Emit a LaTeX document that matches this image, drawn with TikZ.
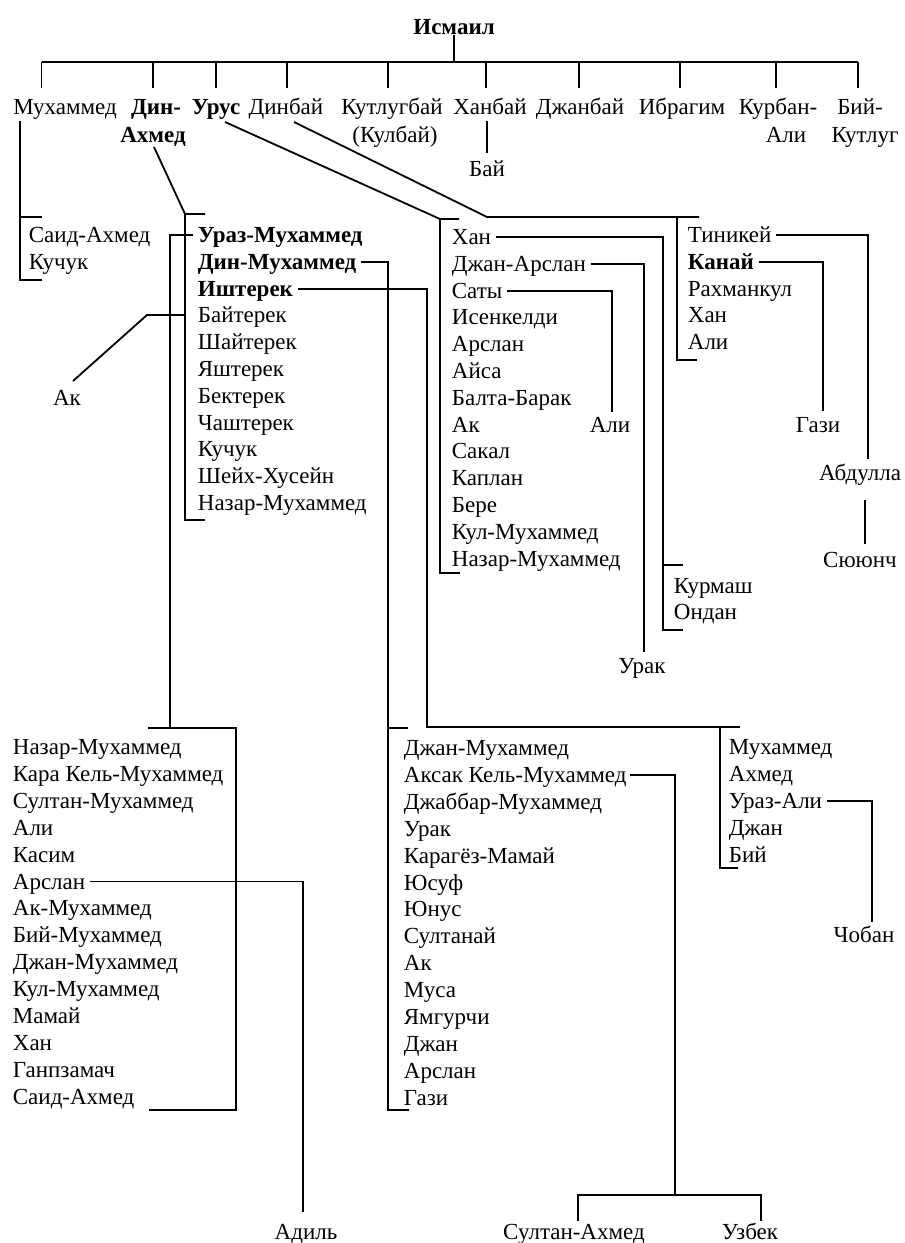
\documentclass[tikz,border=0pt]{standalone}
\usepackage{fontspec}
\setmainfont{Liberation Serif}
\newcommand\gnf{\fontsize{23}{26}\selectfont}
\newcommand\gbf{\fontsize{23}{26}\selectfont\bfseries}
\begin{document}
\begin{tikzpicture}[x=1pt,y=-1pt,line width=1.8pt,
  every node/.style={inner sep=0pt,text height=15pt,text depth=0pt,font=\gnf},
  lbl/.style={anchor=west}, bnode/.style={font=\gbf}, plain/.style={}]
\fill[white] (0,0) rectangle (905,1243);
\useasboundingbox (0,0) rectangle (905,1243);
% top generation
\node[bnode] (ism) at (454,27) {Исмаил};
\node (mu) at (65,107) {Мухаммед};
\node[bnode] (da) at (156,107) {Дин-};
\node[bnode] (da2) at (153,135) {Ахмед};
\node[bnode] (ur) at (216,107) {Урус};
\node (dn) at (286,107) {Динбай};
\node (ku) at (392,107) {Кутлугбай};
\node (ku2) at (395,135) {(Кулбай)};
\node (hb) at (490,107) {Ханбай};
\node (dj) at (580,107) {Джанбай};
\node (ib) at (682,107) {Ибрагим};
\node (kb) at (778,107) {Курбан-};
\node (kb2) at (786,135) {Али};
\node (bk) at (860,107) {Бий-};
\node (bk2) at (865,135) {Кутлуг};
\node (bai) at (487,169) {Бай};
\draw (ism.south) -- (454,62);
\draw (41.5,62) -- (858,62);
\foreach \x in {41.5,153,216,287,388,486,579,680,776,858} \draw (\x,62) -- (\x,88);
\draw (487,121) -- (487,153);
% Мухаммед's sons
\node[lbl] (m1) at (28,235) {Саид-Ахмед};
\node[lbl] (m2) at (28,262) {Кучук};
\draw (20,121) -- (20,280) -- (42,280);
\draw (20,217) -- (42,217);
% Дин-Ахмед's sons
\foreach \t [count=\i] in {Ураз-Мухаммед,Дин-Мухаммед,Иштерек}
  \node[lbl,bnode] (a\i) at (197,{235+26.8*(\i-1)}) {\t};
\foreach \t [count=\i from 4] in {Байтерек,Шайтерек,Яштерек,Бектерек,Чаштерек,Кучук,Шейх-Хусейн,Назар-Мухаммед}
  \node[lbl] (a\i) at (197,{235+26.8*(\i-1)}) {\t};
\draw (154,147) -- (185,214) -- (205,214);
\draw (185,214) -- (185,520) -- (205,520);
\node (akL) at (67,398) {Ак};
\draw (185,315) -- (147,315) -- (73,381);
% Урус's sons
\foreach \t [count=\i] in {Хан,Джан-Арслан,Саты,Исенкелди,Арслан,Айса,Балта-Барак,Ак,Сакал,Каплан,Бере,Кул-Мухаммед,Назар-Мухаммед}
  \node[lbl] (b\i) at (451,{237+26.8*(\i-1)}) {\t};
\draw (225,122) -- (440,219) -- (459,219);
\draw (440,219) -- (440,573) -- (460,573);
\node[lbl] (k1) at (673,586) {Курмаш};
\node[lbl] (k2) at (673,612) {Ондан};
\draw ([xshift=4pt]b1.east) -| (663,630) -- (683,630);
\draw (663,565) -- (683,565);
\node (urak) at (642,666) {Урак};
\draw ([xshift=4pt]b2.east) -| (644,652);
\node (aliS) at (610,425) {Али};
\draw ([xshift=4pt]b3.east) -| (612,412);
% Динбай's sons
\foreach \t/\s [count=\i] in {Тиникей/plain,Канай/bnode,Рахманкул/plain,Хан/plain,Али/plain}
  \node[lbl,\s] (c\i) at (687,{235+26.8*(\i-1)}) {\t};
\draw (294,122) -- (487,217) -- (699,217);
\draw (677,217) -- (677,360) -- (697,360);
\node (gazi) at (818,425) {Гази};
\draw ([xshift=4pt]c2.east) -| (823,411);
\node (abd) at (860,473) {Абдулла};
\node (syu) at (860,560) {Сююнч};
\draw ([xshift=4pt]c1.east) -| (868,459);
\draw (865,500) -- (865,544);
% Ураз-Мухаммед's sons
\foreach \t [count=\i] in {Назар-Мухаммед,Кара Кель-Мухаммед,Султан-Мухаммед,Али,Касим,Арслан,Ак-Мухаммед,Бий-Мухаммед,Джан-Мухаммед,Кул-Мухаммед,Мамай,Хан,Ганпзамач,Саид-Ахмед}
  \node[lbl] (e\i) at (12,{747+26.9*(\i-1)}) {\t};
\draw ([xshift=-4pt]a1.west) -| (170,728);
\draw (148,728) -- (236,728) -- (236,1110) -- (149,1110);
\node (adil) at (306,1232) {Адиль};
\draw ([xshift=4pt]e6.east) -| (303,1212);
% Дин-Мухаммед's sons
\foreach \t [count=\i] in {Джан-Мухаммед,Аксак Кель-Мухаммед,Джаббар-Мухаммед,Урак,Карагёз-Мамай,Юсуф,Юнус,Султанай,Ак,Муса,Ямгурчи,Джан,Арслан,Гази}
  \node[lbl] (f\i) at (403,{748+26.9*(\i-1)}) {\t};
\draw ([xshift=4pt]a2.east) -| (388,1110) -- (409,1110);
\draw (388,728) -- (408,728);
\node (sa) at (574,1232) {Султан-Ахмед};
\node (uz) at (750,1232) {Узбек};
\draw ([xshift=3pt]f2.east) -| (675,1195);
\draw (578,1221) -- (578,1195) -- (761,1195) -- (761,1221);
% Иштерек's sons
\foreach \t [count=\i] in {Мухаммед,Ахмед,Ураз-Али,Джан,Бий}
  \node[lbl] (g\i) at (728,{747+26.9*(\i-1)}) {\t};
\draw ([xshift=4pt]a3.east) -| (427,727) -- (740,727);
\draw (720,727) -- (720,868) -- (738,868);
\node (chob) at (864,935) {Чобан};
\draw ([xshift=4pt]g3.east) -| (872,922);
\end{tikzpicture}
\end{document}
